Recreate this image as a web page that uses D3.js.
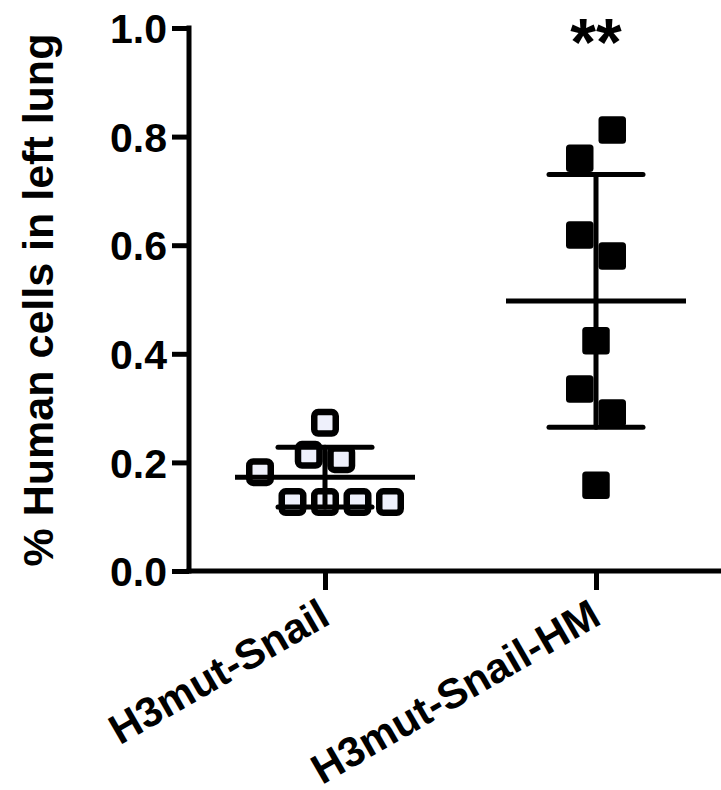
<!DOCTYPE html>
<html><head><meta charset="utf-8">
<script src="https://cdn.jsdelivr.net/npm/d3@7"></script>
<style>html,body{margin:0;padding:0;background:#fff;}svg{display:block;}</style>
</head><body>
<script>
// ---- data ----
const categories = ["H3mut-Snail", "H3mut-Snail-HM"];
const snailValues = [0.273, 0.214, 0.206, 0.182, 0.127, 0.127, 0.127, 0.127];
const snailSlots  = [0, -0.5, 0.5, -2, -1, 0, 1, 2];
const hmValues = [0.812, 0.760, 0.619, 0.580, 0.424, 0.335, 0.291, 0.158];
const hmSlots  = [0.5, -0.5, -0.5, 0.5, 0, -0.5, 0.5, 0];
const yTicks = [0.0, 0.2, 0.4, 0.6, 0.8, 1.0];
const yTitle = "% Human cells in left lung";
const significance = "**";

const W = 721, H = 790;
const svg = d3.select("body").append("svg").attr("width", W).attr("height", H);
const font = "'Liberation Sans', Arial, Helvetica, sans-serif";

const axisX0 = 189, axisY0 = 571, axisYTop = 28;
const y = d3.scaleLinear().domain([0, 1]).range([axisY0, axisYTop]);
const x = d3.scalePoint().domain(categories).range([325, 596]);
const slotW = 32.5;

const groups = [
  {cat: categories[0], values: snailValues, slots: snailSlots, open: true},
  {cat: categories[1], values: hmValues, slots: hmSlots, open: false}
];
groups.forEach(g => {
  g.mean = d3.mean(g.values);
  g.sd = d3.deviation(g.values);
});

// markers
groups.forEach(g => {
  const sel = svg.append("g");
  g.values.forEach((v, i) => {
    const cx = x(g.cat) + g.slots[i] * slotW, cy = y(v);
    if (g.open) {
      sel.append("rect").attr("x", cx - 10.75).attr("y", cy - 10.75)
        .attr("width", 21.5).attr("height", 21.5).attr("rx", 4)
        .attr("fill", "#eef0fb").attr("stroke", "#000").attr("stroke-width", 6.5);
    } else {
      sel.append("rect").attr("x", cx - 13.75).attr("y", cy - 13.75)
        .attr("width", 27.5).attr("height", 27.5).attr("rx", 3.5)
        .attr("fill", "#000");
    }
  });
});

// mean and SD
groups.forEach(g => {
  const cx = x(g.cat);
  const gg = svg.append("g").attr("stroke", "#000").attr("stroke-linecap", "round");
  gg.append("line").attr("x1", cx).attr("x2", cx)
    .attr("y1", y(g.mean + g.sd)).attr("y2", y(g.mean - g.sd)).attr("stroke-width", 5);
  [g.mean + g.sd, g.mean - g.sd].forEach(v => {
    gg.append("line").attr("x1", cx - 47).attr("x2", cx + 47)
      .attr("y1", y(v)).attr("y2", y(v)).attr("stroke-width", 5);
  });
  gg.append("line").attr("x1", cx - 90).attr("x2", cx + 90)
    .attr("y1", y(g.mean)).attr("y2", y(g.mean)).attr("stroke-width", 5).attr("stroke-linecap", "butt");
});

// y axis
const yAxis = d3.axisLeft(y).tickValues(yTicks).tickFormat(d3.format(".1f")).tickSize(17).tickPadding(5);
const ya = svg.append("g").attr("transform", `translate(${axisX0},0)`).call(yAxis);
ya.select(".domain").remove();
ya.selectAll(".tick line").attr("stroke", "#000").attr("stroke-width", 5);
ya.selectAll(".tick text").attr("font-family", font).attr("font-weight", "bold")
  .attr("font-size", 41).attr("fill", "#000").attr("dy", "0.36em");
svg.append("line").attr("x1", axisX0).attr("x2", axisX0)
  .attr("y1", axisYTop - 2.5).attr("y2", axisY0 + 2.5)
  .attr("stroke", "#000").attr("stroke-width", 5);

// x axis
const xAxis = d3.axisBottom(x).tickSize(19).tickFormat("");
const xa = svg.append("g").attr("transform", `translate(0,${axisY0})`).call(xAxis);
xa.select(".domain").remove();
xa.selectAll(".tick line").attr("stroke", "#000").attr("stroke-width", 5);
svg.append("line").attr("x1", axisX0 - 2.5).attr("x2", W)
  .attr("y1", axisY0).attr("y2", axisY0).attr("stroke", "#000").attr("stroke-width", 5);

// x labels
svg.append("g").selectAll("text").data(categories).join("text")
  .attr("transform", d => `translate(${x(d) + 7},${axisY0 + 52}) rotate(-30)`)
  .attr("text-anchor", "end")
  .attr("font-family", font).attr("font-weight", "bold").attr("font-size", 42)
  .attr("fill", "#000").text(d => d);

// y title
svg.append("text")
  .attr("transform", `translate(53,300) rotate(-90)`)
  .attr("text-anchor", "middle")
  .attr("font-family", font).attr("font-weight", "bold").attr("font-size", 43)
  .attr("fill", "#000").text(yTitle);

// significance
svg.append("text").attr("x", x(categories[1])).attr("y", 65)
  .attr("text-anchor", "middle")
  .attr("font-family", font).attr("font-weight", "bold").attr("font-size", 66)
  .attr("fill", "#000").text(significance);
</script>
</body></html>
